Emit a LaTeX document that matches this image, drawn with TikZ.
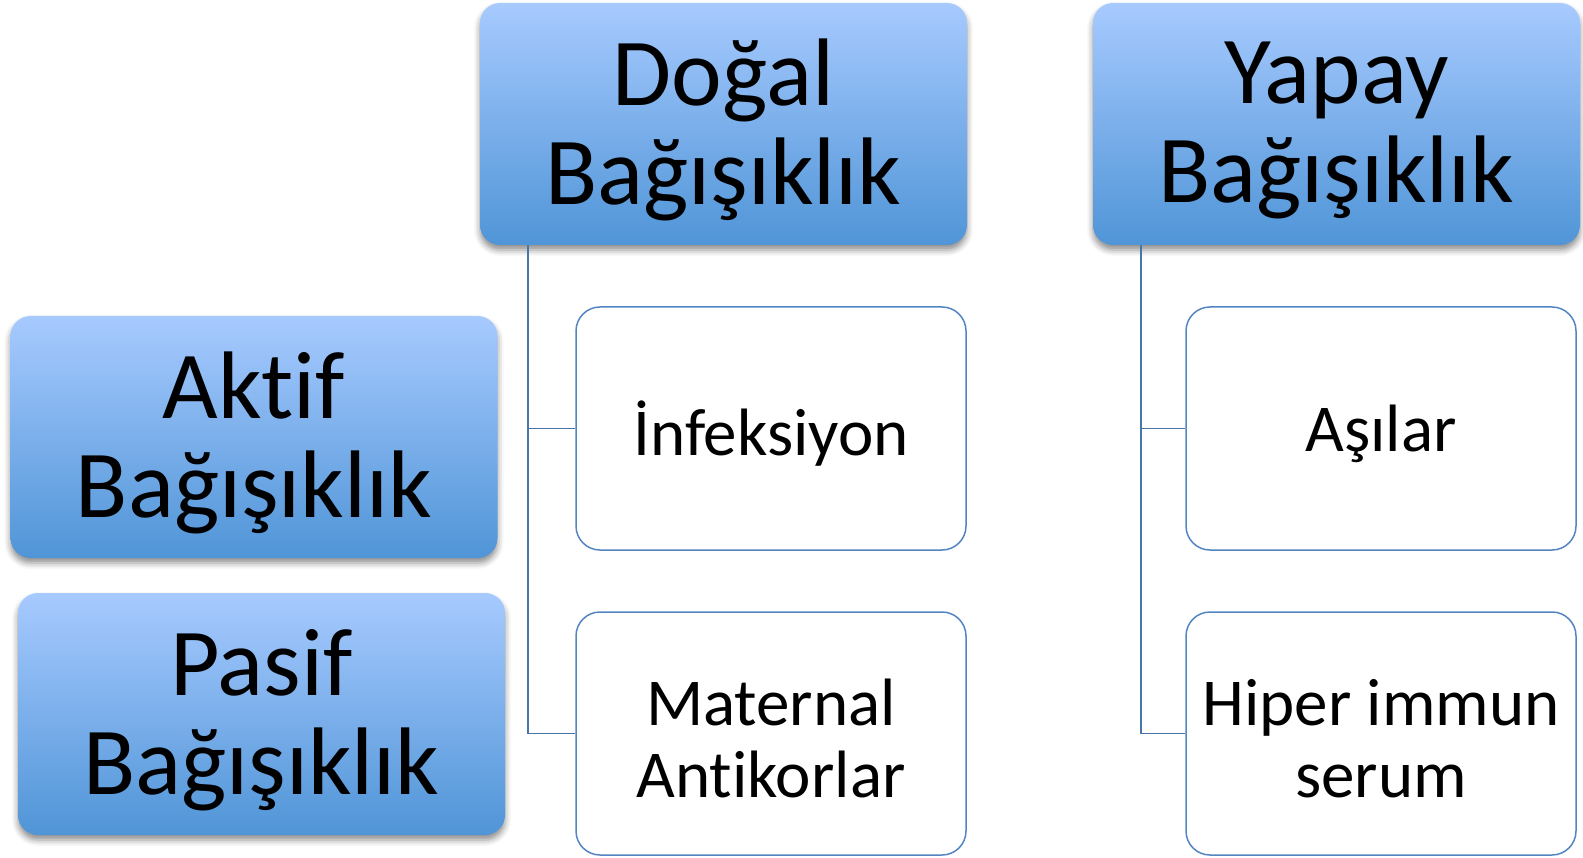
\documentclass[tikz,border=0pt]{standalone}
\usepackage{fontspec}
\setmainfont{Carlito}[Ligatures=NoCommon]
\usetikzlibrary{shadows.blur}
\definecolor{gtop}{RGB}{167,202,255}
\definecolor{gbot}{RGB}{80,149,215}
\definecolor{bline}{RGB}{84,133,195}
\definecolor{cline}{RGB}{74,117,168}
\tikzset{
  bigbox/.style={rounded corners=20pt, top color=gtop, bottom color=gbot, draw=none,
    minimum width=487pt, minimum height=242pt, inner sep=0pt,
    blur shadow={shadow xshift=0pt, shadow yshift=-5pt, shadow blur radius=6pt, shadow opacity=45}},
  bigtext/.style={align=center, inner sep=0pt, yshift=-6pt,
    font=\fontsize{96}{99}\selectfont},
  leafbox/.style={rounded corners=24pt, fill=white, draw=bline, line width=1.5pt,
    minimum width=390pt, minimum height=243pt, inner sep=0pt},
  leaftext/.style={align=center, inner sep=0pt, yshift=-5pt,
    font=\fontsize{67}{72}\selectfont},
  conn/.style={draw=cline, line width=1.5pt}
}
\begin{document}
\begin{tikzpicture}[x=1pt,y=-1pt]
\useasboundingbox (0,0) rectangle (1583,858);
\node[bigbox, label={[bigtext]center:{Doğal\\Bağışıklık}}] (dogal) at (723.5,124) {};
\node[bigbox, label={[bigtext]center:{Yapay\\Bağışıklık}}] (yapay) at (1336.5,124) {};
\node[bigbox, label={[bigtext]center:{Aktif\\Bağışıklık}}] (aktif) at (254,437) {};
\node[bigbox, label={[bigtext]center:{Pasif\\Bağışıklık}}] (pasif) at (261.5,714) {};
\node[leafbox, label={[leaftext]center:{İnfeksiyon}}] (inf) at (771,428.5) {};
\node[leafbox, label={[leaftext]center:{Maternal\\Antikorlar}}] (mat) at (771,733.5) {};
\node[leafbox, label={[leaftext]center:{Aşılar}}] (asi) at (1381,428.5) {};
\node[leafbox, label={[leaftext]center:{Hiper immun\\serum}}] (hip) at (1381,733.5) {};
\draw[conn] (dogal.south west) ++(48,0) |- (inf.west);
\draw[conn] (dogal.south west) ++(48,0) |- (mat.west);
\draw[conn] (yapay.south west) ++(48,0) |- (asi.west);
\draw[conn] (yapay.south west) ++(48,0) |- (hip.west);
\end{tikzpicture}
\end{document}
